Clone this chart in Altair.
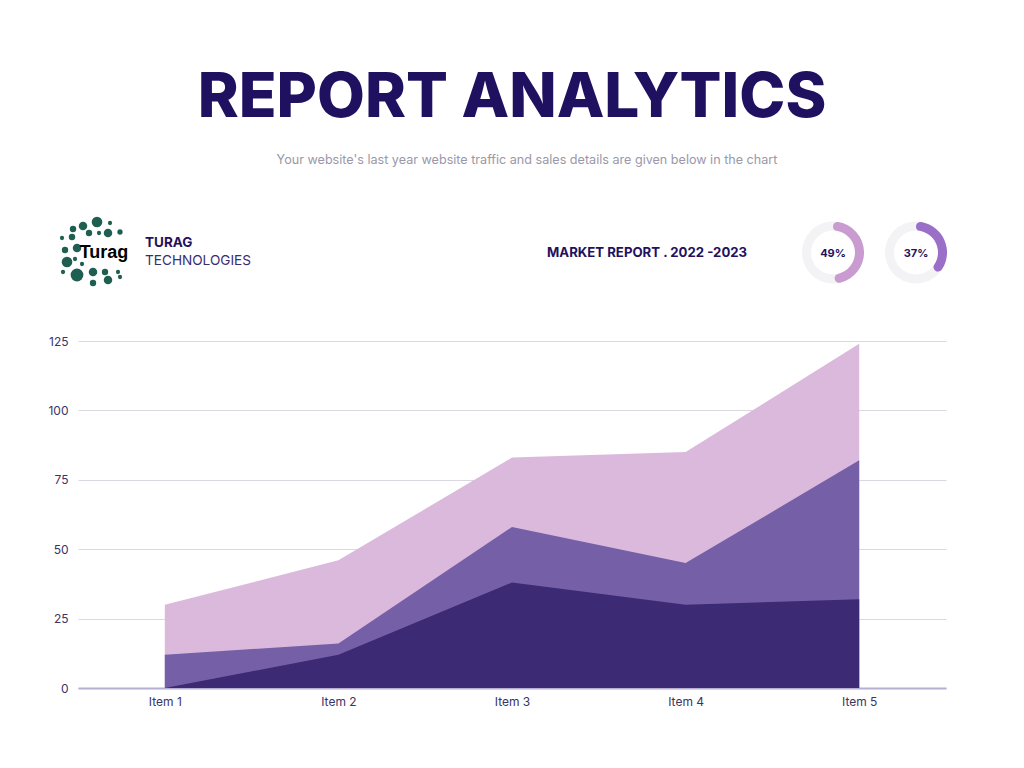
import altair as alt
import pandas as pd

# ---------------- data ----------------
items = ["Item 1", "Item 2", "Item 3", "Item 4", "Item 5"]
series_light = [30, 46, 83, 85, 124]
series_mid = [12, 16, 58, 45, 82]
series_dark = [0, 12, 38, 30, 32]
y_ticks = [0, 25, 50, 75, 100, 125]
donut_values = [49, 37]

FONT = "Inter"
TITLE_COLOR = "#1f1160"
LABEL_COLOR = "#3b3464"

W, H = 868, 347

df = pd.DataFrame({
    "item": items * 3,
    "value": series_light + series_mid + series_dark,
    "series": ["light"] * 5 + ["mid"] * 5 + ["dark"] * 5,
})

x_enc = alt.X("item:N", sort=items,
              scale=alt.Scale(type="point", padding=0.5),
              axis=alt.Axis(title=None, labelFont=FONT, labelFontSize=12,
                            labelColor=LABEL_COLOR, labelPadding=8,
                            domainColor="#b5aed0", domainWidth=2,
                            ticks=False, grid=False, labelAngle=0))
y_enc = alt.Y("value:Q",
              scale=alt.Scale(domain=[0, 125], nice=False),
              axis=alt.Axis(title=None, values=y_ticks, labelFont=FONT,
                            labelFontSize=12, labelColor=LABEL_COLOR,
                            labelPadding=10, domain=False, ticks=False,
                            grid=True, gridColor="#dad7e2", gridWidth=1))


def area(name, color):
    return alt.Chart(df).transform_filter(
        alt.datum.series == name
    ).mark_area(color=color, opacity=1, interpolate="linear").encode(
        x=x_enc, y=y_enc
    )


def label(text, x, y, size, weight="normal", color=TITLE_COLOR,
          align="center", font=FONT, baseline="alphabetic"):
    return alt.Chart(pd.DataFrame({"t": [text]})).mark_text(
        font=font, fontSize=size, fontWeight=weight, color=color,
        align=align, baseline=baseline
    ).encode(x=alt.value(x), y=alt.value(y), text="t:N")


layers = [
    area("light", "#dbb9dd"),
    area("mid", "#7560a8"),
    area("dark", "#3d2a74"),
]

# header texts
layers += [
    label("REPORT ANALYTICS", 434, -224, 62, weight=800),
    label("Your website's last year  website traffic and sales details are given below in the chart",
          449, -177, 12.6, color="#9a98a8"),
    label("TURAG", 67, -94, 13.5, weight="bold", align="left"),
    label("TECHNOLOGIES", 67, -76, 13.6, color="#3a2d6e", align="left"),
    label("MARKET REPORT . 2022 -2023", 469, -84, 13.2, weight="bold", align="left"),
]

# logo decoration (pixel positions relative to plot origin)
logo_dots = [
    (19, -119, 5), (5, -115, 4), (-5, -112, 3), (32, -118, 2), (42, -109, 2.5),
    (30, -108, 4), (11, -108, 3), (21, -108, 2), (-16, -103, 2), (-6, -104, 3),
    (-1, -93, 4), (-13, -91, 3), (-11, -79, 5), (-3, -82, 2), (-15, -69, 2),
    (-1, -66, 6), (4, -77, 2), (15, -69, 4), (27, -69, 3), (15, -58, 3),
    (30, -61, 4), (40, -69, 2), (42, -64, 2),
]
logo_df = pd.DataFrame(logo_dots, columns=["px", "py", "r"])
logo_df["s"] = 3.1416 * (logo_df["r"] * 1.2) ** 2
layers.append(
    alt.Chart(logo_df).mark_circle(color="#1f5f52", opacity=1).encode(
        x=alt.X("px:Q", scale=None), y=alt.Y("py:Q", scale=None),
        size=alt.Size("s:Q", scale=None, legend=None)
    )
)
layers.append(label("Turag", 26, -83, 18, weight="bold", color="#000000",
                    font="Liberation Sans"))

# donuts
donut_colors = ["#c99bd0", "#9a6fc8"]
donut_x = [755, 838]
for v, c, cx in zip(donut_values, donut_colors, donut_x):
    layers.append(
        alt.Chart(pd.DataFrame({"v": [100]})).mark_arc(
            radius=31, radius2=22, color="#f3f2f5"
        ).encode(theta=alt.Theta("v:Q", scale=alt.Scale(domain=[0, 100])),
                 x=alt.value(cx), y=alt.value(-88.5))
    )
    layers.append(
        alt.Chart(pd.DataFrame({"v": [v]})).mark_arc(
            radius=31, radius2=22, color=c, cornerRadius=5
        ).encode(theta=alt.Theta("v:Q", scale=alt.Scale(domain=[0, 100])),
                 x=alt.value(cx), y=alt.value(-88.5))
    )
    layers.append(label(f"{v}%", cx, -84.5, 11, weight="bold"))

chart = alt.layer(*layers).properties(
    width=W, height=H,
    autosize=alt.AutoSizeParams(type="none"),
    padding={"left": 70, "top": 333, "right": 70, "bottom": 72},
    background="white",
).resolve_scale(theta="independent").configure_view(stroke=None)

chart.save("out.html", embed_options={"renderer": "svg", "actions": False})
